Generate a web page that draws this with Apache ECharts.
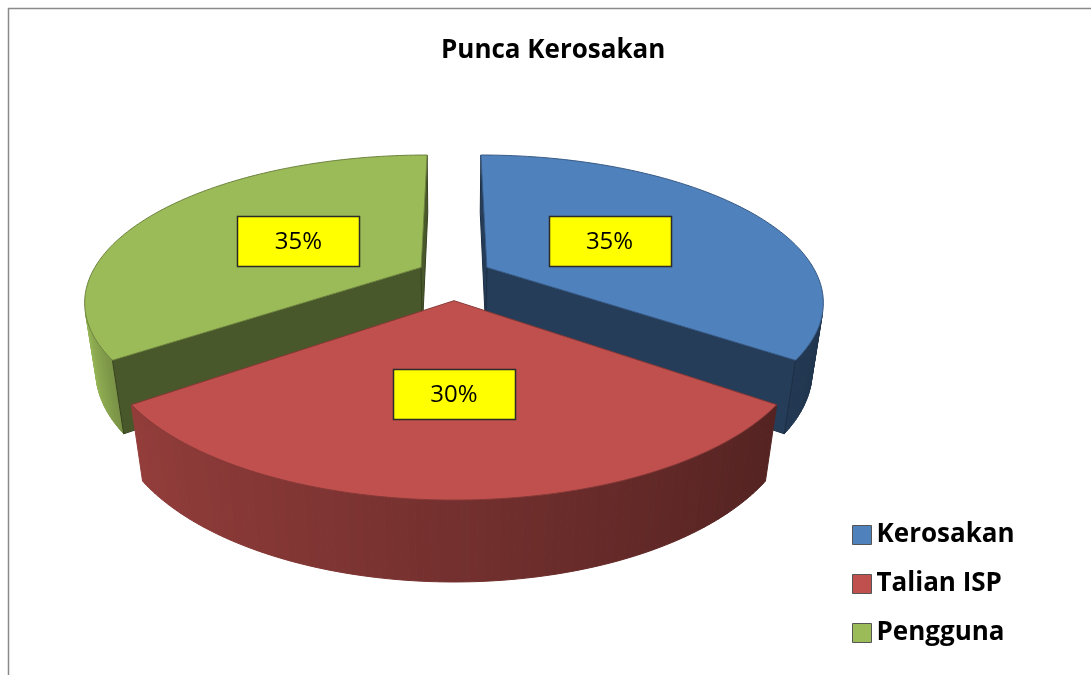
<!DOCTYPE html>
<html>
<head>
<meta charset="utf-8">
<script src="https://cdn.jsdelivr.net/npm/echarts@6/dist/echarts.min.js"></script>
<style>
  html, body { margin: 0; padding: 0; background: #fff; }
  #chart { width: 1091px; height: 675px; }
</style>
</head>
<body>
<div id="chart"></div>
<script>
// chart data
const categories = ['Kerosakan', 'Talian ISP', 'Pengguna'];
const values = [35, 30, 35];
const labelTexts = ['35%', '30%', '35%'];
const colors = ['#4F81BD', '#C0504D', '#9BBB59'];

// 3d view of the pie (tuned by eye against the picture)
const view = {
  cx: 454, cy: 345, f: 1250, d: 3.98, xScale: 1.025,
  tilt: 29.07 * Math.PI / 180,
  h: 0.239, explodeX: 0.113, explodeZ: 0.158
};

const total = values.reduce((a, b) => a + b, 0);
const startAngles = [];
let acc = 0;
values.forEach(v => { startAngles.push(acc / total * 2 * Math.PI); acc += v; });

function shade(hex, k) {
  const n = parseInt(hex.slice(1), 16);
  const cl = v => Math.max(0, Math.min(255, Math.round(v * k)));
  return 'rgb(' + cl((n >> 16) & 255) + ',' + cl((n >> 8) & 255) + ',' + cl(n & 255) + ')';
}

// light on the rim comes from the left
function wallLight(nx) {
  return Math.min(1, 0.6 - 0.2 * nx + 1.2 * Math.max(0, -nx - 0.8));
}

function sliceGeom(i) {
  const a1 = startAngles[i];
  const a2 = a1 + values[i] / total * 2 * Math.PI;
  const m = (a1 + a2) / 2;
  return { a1, a2, m, ox: view.explodeX * Math.sin(m), oz: view.explodeZ * Math.cos(m) };
}

function renderSlice(i) {
  return function (params, api) {
    const s = Math.sin(view.tilt), c = Math.cos(view.tilt);
    const proj = (X, Y, Z) => {
      const yp = Y * c + Z * s;
      const zp = view.d - Y * s + Z * c;
      return [view.cx + view.xScale * view.f * X / zp, view.cy - view.f * yp / zp];
    };
    const g = sliceGeom(i);
    const camZ = -view.d * c;
    const rim = (t, y) => proj(g.ox + Math.sin(t), y, g.oz + Math.cos(t));
    const facing = (px, pz, nx, nz) => (-px) * nx + (camZ - pz) * nz > 0;
    const h = view.h;
    const children = [];

    // outer curved wall, in thin strips so it can be shaded
    const steps = Math.max(8, Math.round((g.a2 - g.a1) / (Math.PI / 180)));
    for (let k = 0; k < steps; k++) {
      const t0 = g.a1 + (g.a2 - g.a1) * k / steps;
      const t1 = g.a1 + (g.a2 - g.a1) * (k + 1) / steps;
      const tm = (t0 + t1) / 2;
      const nx = Math.sin(tm), nz = Math.cos(tm);
      if (!facing(g.ox + nx, g.oz + nz, nx, nz)) continue;
      const col = shade(colors[i], wallLight(nx));
      children.push({
        type: 'polygon', z2: 1,
        shape: { points: [rim(t0, h), rim(t1, h), rim(t1, 0), rim(t0, 0)] },
        style: { fill: col, stroke: col, lineWidth: 1 }
      });
    }

    // the two cut faces
    const vt = proj(g.ox, h, g.oz), vb = proj(g.ox, 0, g.oz);
    [[g.a1, -Math.cos(g.a1), Math.sin(g.a1)], [g.a2, Math.cos(g.a2), -Math.sin(g.a2)]].forEach(w => {
      const t = w[0];
      const px = g.ox + 0.5 * Math.sin(t), pz = g.oz + 0.5 * Math.cos(t);
      if (!facing(px, pz, w[1], w[2])) return;
      const col = shade(colors[i], 0.47);
      children.push({
        type: 'polygon', z2: 2,
        shape: { points: [vt, rim(t, h), rim(t, 0), vb] },
        style: { fill: col, stroke: shade(colors[i], 0.35), lineWidth: 1 }
      });
    });

    // top face
    const top = [vt];
    for (let k = 0; k <= steps; k++) top.push(rim(g.a1 + (g.a2 - g.a1) * k / steps, h));
    children.push({
      type: 'polygon', z2: 3,
      shape: { points: top },
      style: { fill: colors[i], stroke: shade(colors[i], 0.7), lineWidth: 1 }
    });

    // data label in a yellow box
    const rm = rim(g.m, h);
    const lx = vt[0] + 0.47 * (rm[0] - vt[0]);
    const ly = vt[1] + 0.47 * (rm[1] - vt[1]);
    children.push({
      type: 'rect', z2: 4,
      shape: { x: Math.round(lx - 61) + 0.5, y: Math.round(ly - 25) + 0.5, width: 122, height: 50 },
      style: { fill: '#FFFF00', stroke: '#2b2b2b', lineWidth: 1.5 }
    });
    children.push({
      type: 'text', z2: 5,
      style: {
        text: labelTexts[i], x: lx, y: ly + 1,
        align: 'center', verticalAlign: 'middle',
        font: '24px "Open Sans"', fill: '#000'
      }
    });

    return { type: 'group', children: children };
  };
}

// nearer slices are painted later
const depthOrder = values.map((v, i) => i).sort((a, b) => sliceGeom(b).oz - sliceGeom(a).oz);

const chart = echarts.init(document.getElementById('chart'));

const option = {
  backgroundColor: '#fff',
  animation: false,
  title: {
    text: 'Punca Kerosakan',
    left: 441,
    top: 36,
    padding: 0,
    textStyle: {
      fontFamily: 'Open Sans',
      fontWeight: 'bold',
      fontSize: 26,
      lineHeight: 30,
      color: '#000'
    }
  },
  legend: {
    data: categories,
    orient: 'vertical',
    left: 847,
    top: 517,
    icon: 'rect',
    itemWidth: 19,
    itemHeight: 19,
    itemGap: 23,
    selectedMode: false,
    itemStyle: { borderColor: '#555', borderWidth: 1 },
    textStyle: {
      fontFamily: 'Open Sans',
      fontWeight: 'bold',
      fontSize: 26,
      lineHeight: 26,
      color: '#000'
    }
  },
  graphic: [{
    type: 'rect',
    shape: { x: 8.5, y: 8.5, width: 1200, height: 1000 },
    style: { fill: 'none', stroke: '#8a8a8a', lineWidth: 1.5 },
    silent: true
  }],
  series: categories.map((name, i) => ({
    type: 'custom',
    name: name,
    coordinateSystem: 'none',
    z: 2 + depthOrder.indexOf(i),
    itemStyle: { color: colors[i] },
    renderItem: renderSlice(i),
    data: [[values[i]]]
  }))
};

chart.setOption(option);
</script>
</body>
</html>
